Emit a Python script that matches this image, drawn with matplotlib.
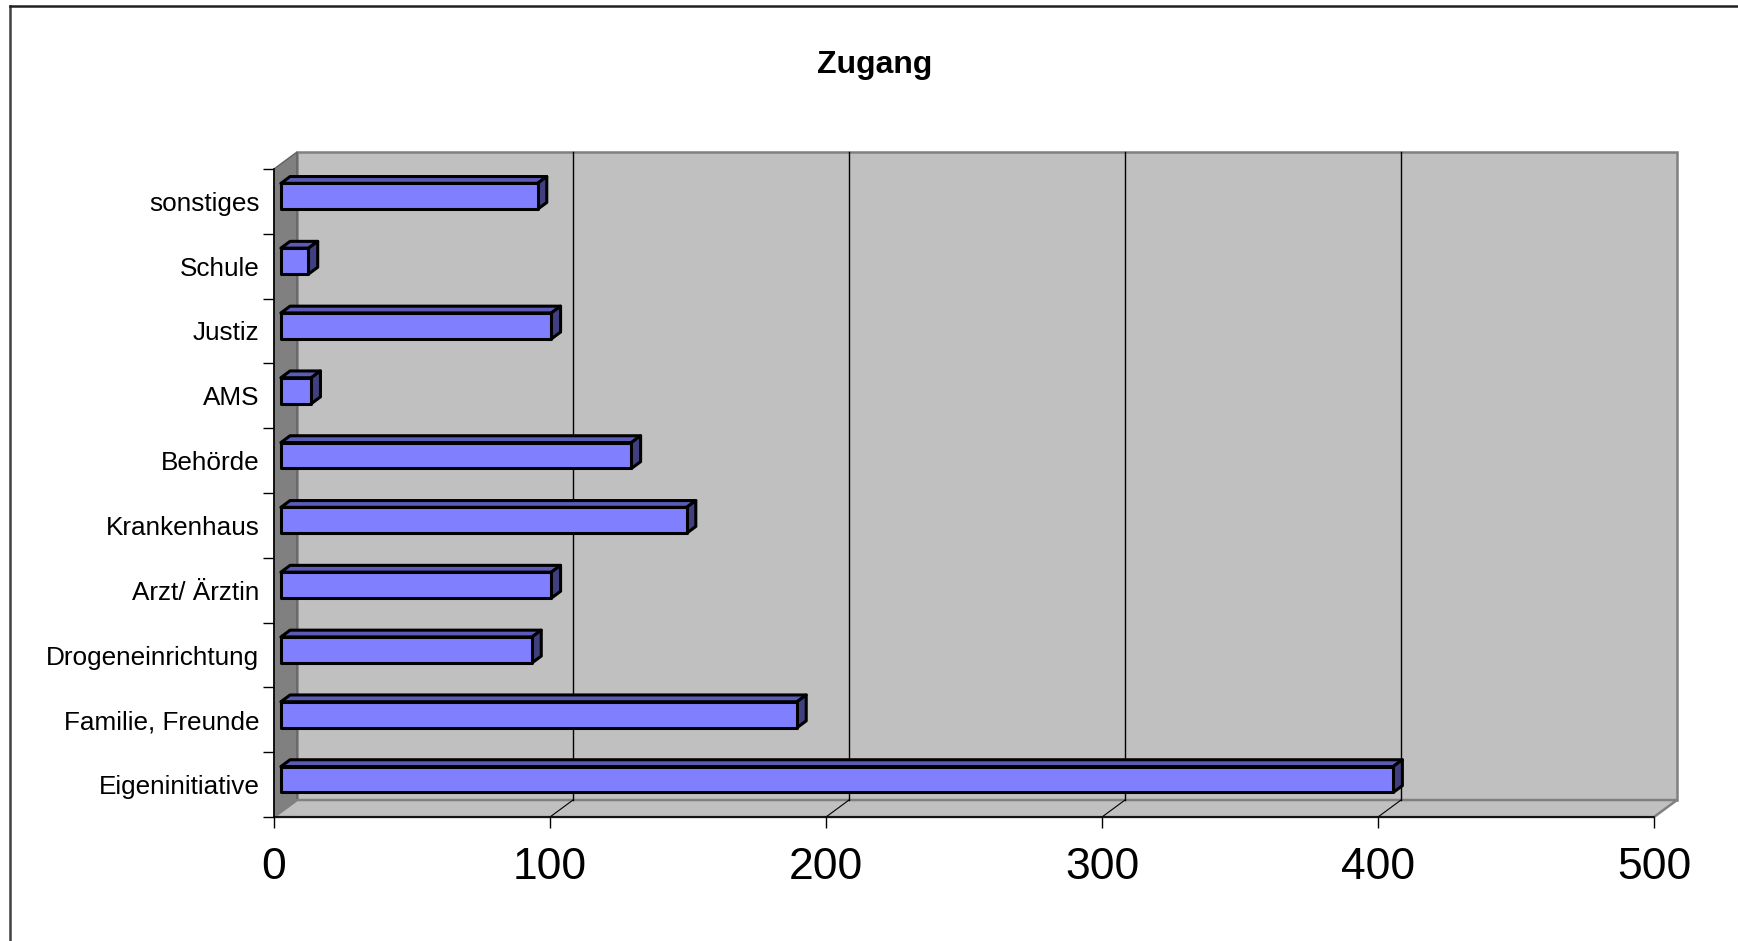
import matplotlib
matplotlib.use("Agg")
import matplotlib.pyplot as plt
from matplotlib.patches import Polygon
from matplotlib.lines import Line2D

categories = ["Eigeninitiative", "Familie, Freunde", "Drogeneinrichtung", "Arzt/ Ärztin",
              "Krankenhaus", "Behörde", "AMS", "Justiz", "Schule", "sonstiges"]
values = [403, 187, 91, 98, 147, 127, 11, 98, 10, 93]
xticks = [0, 100, 200, 300, 400, 500]
title = "Zugang"

plt.rcParams["font.family"] = ["Liberation Sans", "DejaVu Sans"]

fig = plt.figure(figsize=(17.38, 9.41), dpi=100)
ax = fig.add_axes([274 / 1738, 124 / 941, 1380 / 1738, 648 / 941])
n = len(categories)
xmax = xticks[-1]
ax.set_xlim(0, xmax)
ax.set_ylim(0, n)
for s in ax.spines.values():
    s.set_visible(False)
ax.patch.set_visible(False)

# depth of the fake 3d box, in data units
DX, DY = 8.33, 0.262


def poly(pts, **kw):
    ax.add_patch(Polygon(pts, closed=True, clip_on=False, **kw))


# walls and floor
poly([(DX, DY), (xmax + DX, DY), (xmax + DX, n + DY), (DX, n + DY)],
     facecolor="#c0c0c0", edgecolor="#808080", lw=1.8, zorder=0)
poly([(0, 0), (DX, DY), (DX, n + DY), (0, n)],
     facecolor="#808080", edgecolor="#606060", lw=1.0, zorder=0)
poly([(0, 0), (xmax, 0), (xmax + DX, DY), (DX, DY)],
     facecolor="#c0c0c0", edgecolor="#808080", lw=1.8, zorder=0)

# gridlines on back wall and floor
for x in xticks[1:-1]:
    ax.plot([x + DX, x + DX], [DY, n + DY], color="black", lw=1.0, zorder=1, clip_on=False)
    ax.plot([x, x + DX], [0, DY], color="black", lw=0.8, zorder=1, clip_on=False)

# front axis lines
ax.plot([0, xmax], [0, 0], color="black", lw=1.2, zorder=1, clip_on=False)
ax.plot([0, 0], [0, n], color="black", lw=1.2, zorder=1, clip_on=False)

# bars
f1, f2 = 0.3, 0.7
h = 0.4
ox, oy = f1 * DX, f1 * DY
tx, ty = (f2 - f1) * DX, (f2 - f1) * DY
for i, v in enumerate(values):
    y0 = i + 0.5 - h / 2 + oy
    front = [(ox, y0), (ox + v, y0), (ox + v, y0 + h), (ox, y0 + h)]
    top = [(ox, y0 + h), (ox + v, y0 + h), (ox + v + tx, y0 + h + ty), (ox + tx, y0 + h + ty)]
    side = [(ox + v, y0), (ox + v + tx, y0 + ty), (ox + v + tx, y0 + h + ty), (ox + v, y0 + h)]
    poly(top, facecolor="#5c5cb8", edgecolor="black", lw=2.2, zorder=3, joinstyle="round")
    poly(side, facecolor="#404080", edgecolor="black", lw=2.2, zorder=3, joinstyle="round")
    poly(front, facecolor="#8080ff", edgecolor="black", lw=2.2, zorder=4, joinstyle="round")

# ticks
ax.set_xticks(xticks)
ax.set_xticklabels([str(t) for t in xticks])
ax.tick_params(axis="x", direction="out", length=8, width=1, labelsize=32, pad=13.5)
ax.set_yticks(range(n + 1))
ax.set_yticklabels([])
ax.set_yticks([i + 0.5 for i in range(n)], minor=True)
ax.set_yticklabels(categories, minor=True)
ax.tick_params(axis="y", which="major", direction="out", length=8, width=1)
ax.tick_params(axis="y", which="minor", length=0, labelsize=18.8, pad=10.5)

fig.text(875 / 1738, 1 - 65 / 941, title, ha="center", va="center", fontsize=23, fontweight="bold")

# chart frame
fig.add_artist(Line2D([10 / 1738, 10 / 1738], [0, 1 - 6 / 941], color="#404040", lw=1.8))
fig.add_artist(Line2D([10 / 1738, 1], [1 - 6 / 941, 1 - 6 / 941], color="#202020", lw=1.8))

fig.savefig("out.png", dpi=100)
